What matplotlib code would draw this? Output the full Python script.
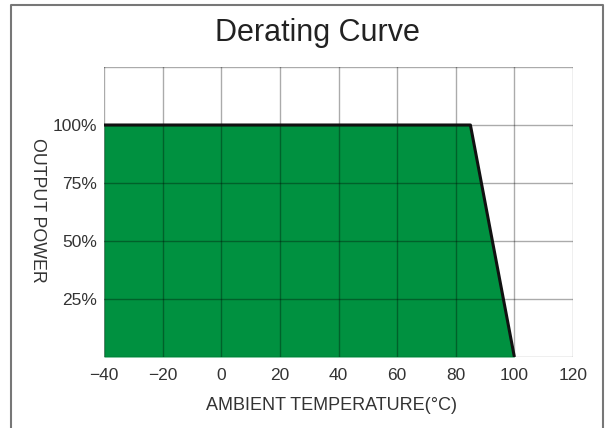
import matplotlib
matplotlib.use("Agg")
import matplotlib.pyplot as plt
from matplotlib.lines import Line2D

plt.rcParams['font.family'] = ['Liberation Sans', 'DejaVu Sans']

# derating curve: ambient temperature (C) vs output power (%)
temp = [-40, 85, 100]
power = [100, 100, 0]

x_ticks = [-40, -20, 0, 20, 40, 60, 80, 100, 120]
x_labels = ["\u221240", "\u221220", "0", "20", "40", "60", "80", "100", "120"]
y_grid = [0, 25, 50, 75, 100, 125]
y_ticks = [25, 50, 75, 100]
y_labels = ["25%", "50%", "75%", "100%"]

fig = plt.figure(figsize=(6.05, 4.28), dpi=100)
ax = fig.add_axes([104 / 605, 71 / 428, 469 / 605, 290 / 428])

ax.fill_between(temp + [100], power + [0], 0, color="#009140", lw=0, zorder=1)
ax.plot(temp, power, color="#111111", lw=2.2, zorder=3, solid_capstyle="butt")

for x in x_ticks:
    ax.axvline(x, color="black", alpha=0.33, lw=1, zorder=2)
for y in y_grid:
    ax.axhline(y, color="black", alpha=0.33, lw=1, zorder=2)

ax.set_xlim(-40, 120)
ax.set_ylim(0, 125)
ax.set_xticks(x_ticks)
ax.set_xticklabels(x_labels, fontsize=12.5, color="#333333")
ax.set_yticks(y_ticks)
ax.set_yticklabels(y_labels, fontsize=12.5, color="#333333")
ax.tick_params(axis="x", length=0, pad=8)
ax.tick_params(axis="y", length=0, pad=5)
for s in ax.spines.values():
    s.set_visible(False)

fig.text(317 / 605, 1 - 33 / 428, "Derating Curve", fontsize=22, color="#222222",
         ha="center", va="center")
fig.text(332 / 605, 1 - 406 / 428, "AMBIENT TEMPERATURE(\u00b0C)", fontsize=13,
         color="#333333", ha="center", va="center")
fig.text(37 / 605, 1 - 210 / 428, "OUTPUT POWER", fontsize=12.8, color="#333333",
         ha="center", va="center", rotation=-90)

# frame around the picture (no bottom edge)
fig.add_artist(Line2D([11.5 / 605, 11.5 / 605, 603 / 605, 603 / 605],
                      [0, 1 - 5 / 428, 1 - 5 / 428, 0],
                      transform=fig.transFigure, color="#777777", lw=1.5))

fig.savefig("out.png", dpi=100)
